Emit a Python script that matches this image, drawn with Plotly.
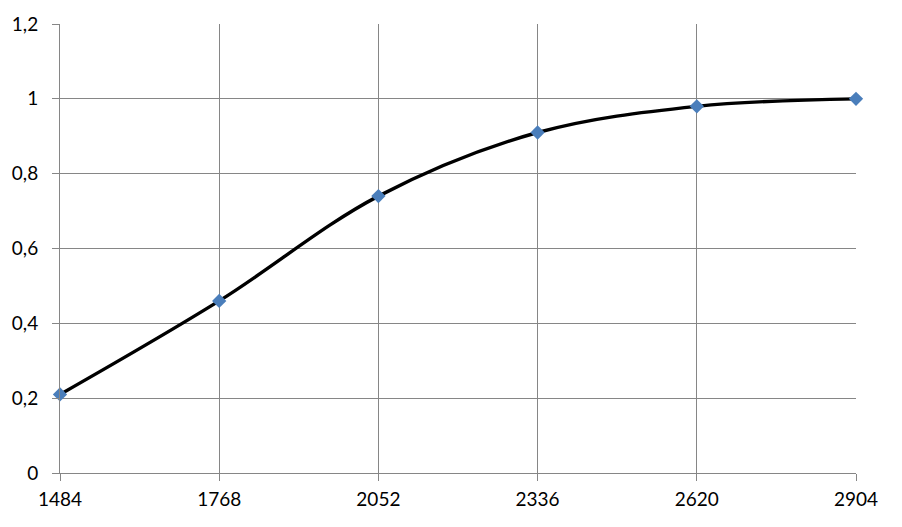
import plotly.graph_objects as go

x_vals = [1484, 1768, 2052, 2336, 2620, 2904]
y_vals = [0.21, 0.46, 0.74, 0.91, 0.98, 1.0]
y_ticks = [0, 0.2, 0.4, 0.6, 0.8, 1.0, 1.2]
y_tick_labels = ["0", "0,2", "0,4", "0,6", "0,8", "1", "1,2"]
x_tick_labels = [str(v) for v in x_vals]

grid = "#868686"
fig = go.Figure()
fig.add_trace(go.Scatter(
    x=x_vals, y=y_vals, mode="lines",
    line=dict(color="black", width=3.4, shape="spline", smoothing=1.0),
    hoverinfo="skip", showlegend=False))
fig.add_trace(go.Scatter(
    x=x_vals, y=y_vals, mode="markers",
    marker=dict(symbol="diamond", size=11, color="#4A7EBB"),
    showlegend=False, cliponaxis=False))

fig.update_layout(
    width=902, height=527,
    margin=dict(l=60, r=46, t=24, b=54),
    paper_bgcolor="white", plot_bgcolor="white",
    font=dict(family="Lato, Liberation Sans, sans-serif", size=19, color="black"),
    xaxis=dict(range=[1484, 2904], tickvals=x_vals, ticktext=x_tick_labels,
               showgrid=True, gridcolor=grid, gridwidth=1,
               showline=True, linecolor=grid, linewidth=1, mirror=False,
               ticks="outside", ticklen=7, tickcolor=grid, zeroline=False,
               automargin=False, ticklabelstandoff=2),
    yaxis=dict(range=[0, 1.2], tickvals=y_ticks, ticktext=y_tick_labels,
               showgrid=True, gridcolor=grid, gridwidth=1,
               showline=True, linecolor=grid, linewidth=1,
               ticks="outside", ticklen=7, tickcolor=grid, zeroline=False,
               automargin=False, ticklabelstandoff=10),
)
fig.write_html("out.html", config={"displayModeBar": False},
               post_script="document.body.style.margin='0';document.body.style.padding='0';")
